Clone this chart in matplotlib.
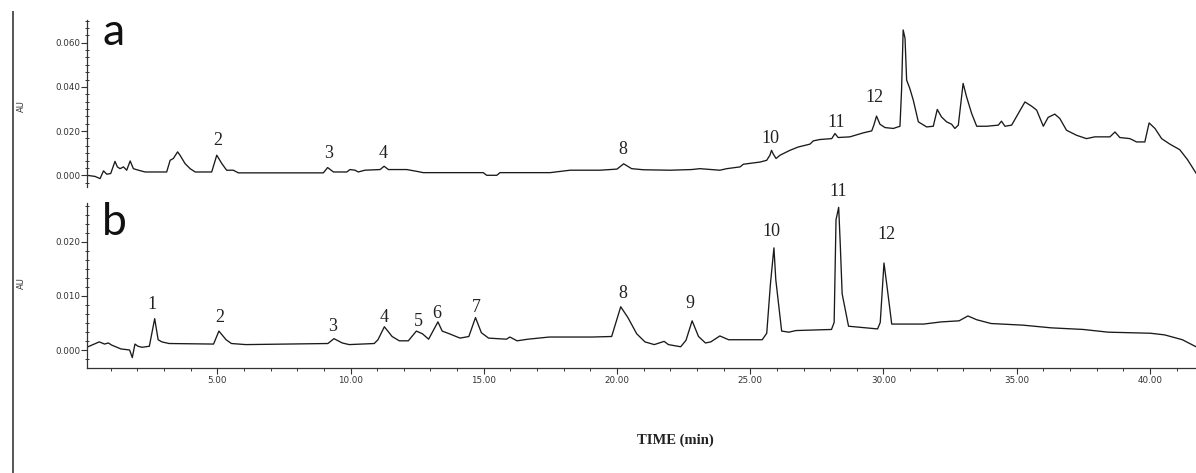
import matplotlib
matplotlib.use("Agg")
import matplotlib.pyplot as plt
from matplotlib.ticker import MultipleLocator, AutoMinorLocator, FormatStrFormatter
from matplotlib.lines import Line2D

# ---------------- data (time in min, absorbance in AU) ----------------
time_a = [0.10, 0.41, 0.60, 0.73, 0.85, 1.00, 1.16, 1.25, 1.35, 1.48, 1.60, 1.73, 1.85, 2.04, 2.29,
          3.10, 3.23, 3.35, 3.51, 3.60, 3.79, 3.98, 4.17, 4.79, 4.98, 5.17, 5.35, 5.60, 5.79,
          8.98, 9.14, 9.36, 9.86, 9.98, 10.17, 10.29, 10.54, 11.11, 11.26, 11.42, 12.11, 12.48,
          12.73, 14.98, 15.11, 15.49, 15.61, 17.49, 18.24, 19.36, 20.00, 20.25, 20.55, 21.00,
          22.00, 22.80, 23.11, 23.86, 24.12, 24.62, 24.74, 25.37, 25.62, 25.74, 25.80, 25.87,
          25.97, 26.12, 26.49, 26.80, 27.24, 27.37, 27.62, 28.06, 28.18, 28.30, 28.74, 29.24,
          29.56, 29.64, 29.74, 29.87, 30.06, 30.37, 30.62, 30.68, 30.74, 30.81, 30.87, 30.99,
          31.12, 31.31, 31.62, 31.87, 32.02, 32.18, 32.37, 32.56, 32.68, 32.81, 32.99, 33.12,
          33.31, 33.50, 33.87, 34.31, 34.43, 34.56, 34.81, 35.06, 35.31, 35.56, 35.75, 36.00,
          36.18, 36.43, 36.62, 36.87, 37.25, 37.62, 37.93, 38.50, 38.69, 38.87, 39.25, 39.50,
          39.81, 39.97, 40.19, 40.44, 40.75, 41.12, 41.41, 41.73]
au_a = [0.0000, -0.0005, -0.0015, 0.0020, 0.0005, 0.0008, 0.0063, 0.0038, 0.0030, 0.0038, 0.0023,
        0.0065, 0.0030, 0.0023, 0.0015,
        0.0015, 0.0068, 0.0076, 0.0106, 0.0091, 0.0053, 0.0030, 0.0015, 0.0015, 0.0091, 0.0053,
        0.0023, 0.0023, 0.0011,
        0.0011, 0.0035, 0.0015, 0.0015, 0.0026, 0.0023, 0.0015, 0.0023, 0.0026, 0.0041, 0.0026,
        0.0026, 0.0018,
        0.0012, 0.0012, 0.0000, 0.0000, 0.0012, 0.0012, 0.0023, 0.0023, 0.0028, 0.0052, 0.0030,
        0.0025,
        0.0023, 0.0026, 0.0030, 0.0023, 0.0030, 0.0038, 0.0050, 0.0060, 0.0068, 0.0091, 0.0113,
        0.0095,
        0.0076, 0.0091, 0.0113, 0.0128, 0.0141, 0.0156, 0.0162, 0.0166, 0.0189, 0.0171, 0.0174,
        0.0192,
        0.0201, 0.0227, 0.0268, 0.0231, 0.0216, 0.0212, 0.0222, 0.0385, 0.0658, 0.0620, 0.0431,
        0.0393,
        0.0340, 0.0242, 0.0219, 0.0222, 0.0298, 0.0264, 0.0242, 0.0231, 0.0212, 0.0227, 0.0416,
        0.0355,
        0.0280, 0.0222, 0.0222, 0.0227, 0.0245, 0.0222, 0.0227, 0.0280, 0.0332, 0.0313, 0.0295,
        0.0222,
        0.0262, 0.0277, 0.0257, 0.0204, 0.0181, 0.0166, 0.0174, 0.0174, 0.0196, 0.0171, 0.0166,
        0.0151,
        0.0151, 0.0237, 0.0212, 0.0166, 0.0141, 0.0116, 0.0071, 0.0010]

time_b = [0.10, 0.57, 0.77, 0.91, 1.04, 1.38, 1.71, 1.81, 1.91, 2.02, 2.18, 2.45, 2.65, 2.78, 2.92,
          3.19, 4.86, 5.06, 5.33, 5.53, 6.07, 9.15, 9.38, 9.69, 9.95, 10.89, 11.03, 11.27, 11.56,
          11.83, 12.17, 12.47, 12.70, 12.93, 13.28, 13.44, 13.71, 14.11, 14.44, 14.69, 14.91,
          15.18, 15.85, 15.98, 16.25, 16.66, 17.46, 19.07, 19.80, 20.14, 20.41, 20.74, 21.05,
          21.40, 21.77, 21.93, 22.39, 22.59, 22.82, 23.06, 23.32, 23.52, 23.86, 24.19, 25.45,
          25.62, 25.76, 25.89, 25.96, 26.18, 26.45, 26.72, 28.05, 28.15, 28.22, 28.32, 28.38,
          28.45, 28.69, 29.78, 29.88, 30.02, 30.12, 30.22, 30.31, 31.51, 32.17, 32.84, 33.17,
          33.50, 34.04, 35.23, 36.30, 37.50, 38.43, 40.02, 40.55, 41.22, 41.73]
au_b = [0.0005, 0.0015, 0.0011, 0.0013, 0.0009, 0.0002, 0.0000, -0.0014, 0.0011, 0.0007, 0.0005,
        0.0007, 0.0058, 0.0019, 0.0015,
        0.0012, 0.0011, 0.0035, 0.0019, 0.0012, 0.0010, 0.0012, 0.0021, 0.0013, 0.0010, 0.0012,
        0.0019, 0.0043, 0.0025,
        0.0017, 0.0017, 0.0035, 0.0030, 0.0020, 0.0052, 0.0035, 0.0030, 0.0022, 0.0025, 0.0060,
        0.0032,
        0.0022, 0.0020, 0.0024, 0.0017, 0.0020, 0.0024, 0.0024, 0.0025, 0.0080, 0.0060, 0.0030,
        0.0015,
        0.0010, 0.0016, 0.0010, 0.0006, 0.0018, 0.0054, 0.0025, 0.0013, 0.0015, 0.0026, 0.0019,
        0.0019,
        0.0031, 0.0123, 0.0189, 0.0130, 0.0035, 0.0033, 0.0036, 0.0038, 0.0051, 0.0241, 0.0264,
        0.0195,
        0.0104, 0.0044, 0.0039, 0.0051, 0.0161, 0.0123, 0.0084, 0.0048, 0.0048, 0.0052, 0.0054,
        0.0063,
        0.0056, 0.0049, 0.0046, 0.0041, 0.0038, 0.0033, 0.0031, 0.0028, 0.0019, 0.0006]

peak_labels_a = ["2", "3", "4", "8", "10", "11", "12"]
peak_time_a = [5.03, 9.16, 11.22, 20.23, 25.74, 28.22, 29.68]
peak_au_a = [0.0159, 0.0100, 0.0100, 0.0118, 0.0168, 0.0240, 0.0354]

peak_labels_b = ["1", "2", "3", "4", "5", "6", "7", "8", "9", "10", "11", "12"]
peak_time_b = [2.55, 5.10, 9.31, 11.26, 12.53, 13.25, 14.71, 20.23, 22.74, 25.78, 28.29, 30.13]
peak_au_b = [0.0085, 0.0060, 0.0043, 0.0061, 0.0053, 0.0068, 0.0079, 0.0104, 0.0086, 0.0219,
             0.0293, 0.0213]

yticks_a = [0.000, 0.020, 0.040, 0.060]
yticks_b = [0.000, 0.010, 0.020]
xticks = [5, 10, 15, 20, 25, 30, 35, 40]

# ---------------- figure ----------------
W, H = 1196, 473
fig = plt.figure(figsize=(W / 100, H / 100), dpi=100)
fig.patch.set_facecolor("white")

def fx(px):
    return px / W

def fy(py):
    return 1 - py / H

ax_a = fig.add_axes([fx(87), fy(187), fx(1196 - 87), (187 - 20) / H])
ax_b = fig.add_axes([fx(87), fy(368), fx(1196 - 87), (368 - 203) / H])

line_kw = dict(color="#1a1a1a", lw=0.95, solid_joinstyle="round")
ax_a.plot(time_a, au_a, **line_kw)
ax_b.plot(time_b, au_b, **line_kw)

label_font = dict(family=["Liberation Serif", "DejaVu Serif"], size=13, color="#222222")
for lab, t, v in zip(peak_labels_a, peak_time_a, peak_au_a):
    ax_a.text(t, v, lab, ha="center", va="center", **label_font)
for lab, t, v in zip(peak_labels_b, peak_time_b, peak_au_b):
    ax_b.text(t, v, lab, ha="center", va="center", **label_font)

spine_c = "#333333"
for ax, ylo, yhi, yt in [(ax_a, -0.0053, 0.0703, yticks_a), (ax_b, -0.00333, 0.0272, yticks_b)]:
    ax.set_xlim(0.11, 41.73)
    ax.set_ylim(ylo, yhi)
    ax.set_facecolor("none")
    for s in ["top", "right"]:
        ax.spines[s].set_visible(False)
    ax.spines["left"].set_color(spine_c)
    ax.spines["left"].set_linewidth(0.9)
    ax.set_yticks(yt)
    ax.yaxis.set_major_formatter(FormatStrFormatter("%.3f"))
    ax.yaxis.set_minor_locator(AutoMinorLocator(6))
    ax.tick_params(axis="y", which="major", direction="out", length=4.5, width=0.8,
                   colors=spine_c, labelsize=6.3, pad=0.5)
    ax.tick_params(axis="y", which="minor", direction="inout", length=3, width=0.7, colors=spine_c)

ax_a.spines["bottom"].set_visible(False)
ax_a.set_xticks([])
ax_a.tick_params(axis="x", which="both", length=0)

ax_b.spines["bottom"].set_color(spine_c)
ax_b.spines["bottom"].set_linewidth(0.9)
ax_b.set_xticks(xticks)
ax_b.xaxis.set_major_formatter(FormatStrFormatter("%.2f"))
ax_b.xaxis.set_minor_locator(MultipleLocator(1))
ax_b.tick_params(axis="x", which="major", direction="out", length=4, width=0.8,
                 colors=spine_c, labelsize=6.3, pad=2)
ax_b.tick_params(axis="x", which="minor", direction="out", length=2.5, width=0.7, colors=spine_c)

# panel letters
fig.text(fx(102), fy(45), "a", family=["Lato", "DejaVu Sans"], size=32, color="#111111",
         ha="left", va="baseline")
fig.text(fx(102), fy(235), "b", family=["Lato", "DejaVu Sans"], size=32, color="#111111",
         ha="left", va="baseline")

# AU labels
fig.text(fx(21), fy(106), "AU", rotation=90, size=6, color="#333333", ha="center", va="center")
fig.text(fx(21), fy(283), "AU", rotation=90, size=6, color="#333333", ha="center", va="center")

# x label
fig.text(fx(675), fy(440), "TIME (min)", family=["Liberation Serif", "DejaVu Serif"],
         weight="bold", size=10.5, color="#222222", ha="center", va="center")

# left frame line
fig.add_artist(Line2D([fx(12.5), fx(12.5)], [0, fy(12)], transform=fig.transFigure,
                      color="#555555", lw=1.4))

fig.savefig("out.png", dpi=100, facecolor="white")
